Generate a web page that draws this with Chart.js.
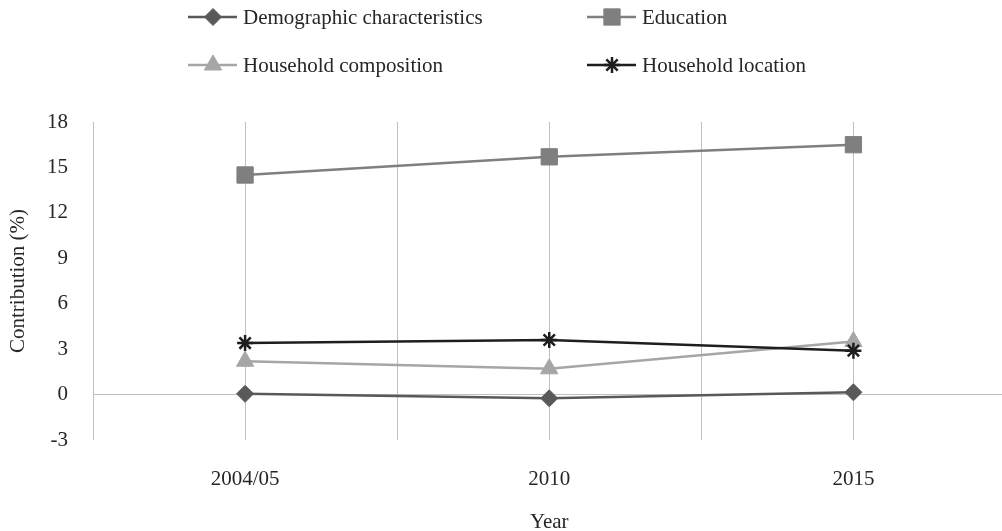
<!DOCTYPE html>
<html>
<head>
<meta charset="utf-8">
<script src="https://cdn.jsdelivr.net/npm/chart.js@4/dist/chart.umd.min.js"></script>
<style>
  html, body { margin: 0; padding: 0; background: #fff; overflow: hidden; }
  #wrap { width: 1002px; height: 531px; overflow: hidden; position: relative; }
  #chart { display: block; }
</style>
</head>
<body>
<div id="wrap"><canvas id="chart" width="1018" height="531"></canvas></div>
<script>
// Survey years on the horizontal axis
const years = ['2004/05', '2010', '2015'];

// Contribution of each factor group (%)
const demographic = [0.05, -0.25, 0.15];
const education = [14.5, 15.7, 16.5];
const composition = [2.2, 1.7, 3.5];
const hhLocation = [3.4, 3.6, 2.9];

// Vertical axis ticks
const yTicks = [-3, 0, 3, 6, 9, 12, 15, 18];

const seriesNames = ['Demographic characteristics', 'Education', 'Household composition', 'Household location'];
const seriesValues = [demographic, education, composition, hhLocation];
const seriesColors = ['#595959', '#7f7f7f', '#a6a6a6', '#1e1e1e'];
const seriesMarkers = ['rectRot', 'rect', 'triangle', 'star'];
const markerRadius = [8.5, 11.5, 10, 8];

const FONT = '"Liberation Serif", "Times New Roman", serif';
const TEXT = '#262626';
const GRID = '#c0c0c0';

const datasets = seriesValues.map((vals, i) => ({
  label: seriesNames[i],
  data: vals.map((v, k) => ({ x: k, y: v })),
  borderColor: seriesColors[i],
  backgroundColor: seriesColors[i],
  borderWidth: 2.5,
  pointStyle: seriesMarkers[i],
  pointRadius: markerRadius[i],
  pointHoverRadius: markerRadius[i],
  pointBackgroundColor: seriesColors[i],
  pointBorderColor: seriesColors[i],
  pointBorderWidth: seriesMarkers[i] === 'star' ? 2.5 : 1,
  tension: 0,
  order: seriesValues.length - i
}));

// Two-column legend above the plot
const legendSlots = [[188, 17], [587, 17], [188, 65], [587, 65]];
const gridLegend = {
  id: 'gridLegend',
  afterDraw(chart) {
    const ctx = chart.ctx;
    chart.data.datasets.forEach((ds, i) => {
      const [x, y] = legendSlots[i];
      ctx.save();
      ctx.strokeStyle = ds.borderColor;
      ctx.lineWidth = ds.borderWidth;
      ctx.beginPath();
      ctx.moveTo(x, y);
      ctx.lineTo(x + 49, y);
      ctx.stroke();
      ctx.fillStyle = ds.pointBackgroundColor;
      ctx.strokeStyle = ds.pointBorderColor;
      ctx.lineWidth = ds.pointBorderWidth;
      Chart.helpers.drawPoint(ctx, {
        pointStyle: ds.pointStyle,
        rotation: 0,
        radius: ds.pointRadius,
        borderWidth: ds.pointBorderWidth
      }, x + 25, y);
      ctx.fillStyle = TEXT;
      ctx.font = '21px ' + FONT;
      ctx.textBaseline = 'middle';
      ctx.textAlign = 'left';
      ctx.fillText(ds.label, x + 55, y + 1);
      ctx.restore();
    });
  }
};

new Chart(document.getElementById('chart'), {
  type: 'line',
  data: { datasets },
  options: {
    responsive: false,
    maintainAspectRatio: false,
    devicePixelRatio: 1,
    animation: false,
    events: [],
    layout: { padding: { top: 122, right: 5, bottom: 0, left: 0 } },
    plugins: {
      legend: { display: false },
      tooltip: { enabled: false }
    },
    scales: {
      x: {
        type: 'linear',
        min: -0.5,
        max: 2.5,
        afterFit(scale) {
          scale.height = 91;
          scale.paddingLeft = 0;
          scale.paddingRight = 0;
        },
        afterBuildTicks(scale) {
          scale.ticks = [-0.5, 0, 0.5, 1, 1.5, 2, 2.5].map(v => ({ value: v }));
        },
        ticks: {
          autoSkip: false,
          maxRotation: 0,
          padding: 27,
          color: TEXT,
          font: { family: FONT, size: 21 },
          callback: v => (Number.isInteger(v) && years[v] !== undefined ? years[v] : '')
        },
        grid: { color: GRID, lineWidth: 1, drawTicks: false },
        border: { display: false },
        title: {
          display: true,
          text: 'Year',
          color: TEXT,
          font: { family: FONT, size: 21 },
          padding: { top: 0, bottom: -4 }
        }
      },
      y: {
        min: -3,
        max: 18,
        afterFit(scale) { scale.width = 93; },
        afterBuildTicks(scale) {
          scale.ticks = yTicks.map(v => ({ value: v }));
        },
        ticks: {
          padding: 25,
          color: TEXT,
          font: { family: FONT, size: 21 }
        },
        grid: {
          drawTicks: false,
          lineWidth: 1,
          color: c => (c.tick && c.tick.value === 0 ? GRID : 'rgba(0,0,0,0)')
        },
        border: { display: false },
        title: {
          display: true,
          text: 'Contribution (%)',
          color: TEXT,
          font: { family: FONT, size: 21 },
          padding: { top: 6, bottom: 0 }
        }
      }
    }
  },
  plugins: [gridLegend]
});
</script>
</body>
</html>
